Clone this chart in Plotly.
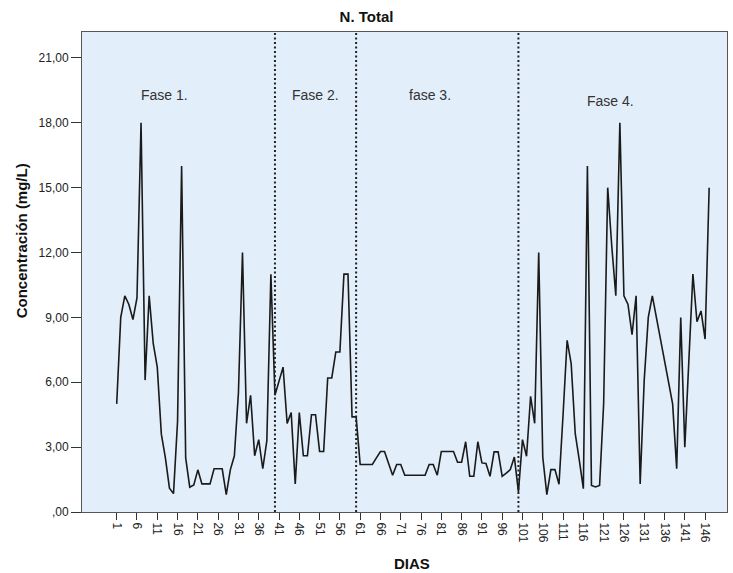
import plotly.graph_objects as go

# Daily total nitrogen concentration (mg/L), days 1..147
dias = list(range(1, 148))
n_total = [
    5.0, 9.0, 10.0, 9.6, 8.9, 9.9, 18.0, 6.1, 10.0, 7.8,      # 1-10
    6.7, 3.6, 2.5, 1.1, 0.85, 4.2, 16.0, 2.5, 1.15, 1.25,    # 11-20
    1.95, 1.3, 1.3, 1.3, 2.0, 2.0, 2.0, 0.8, 1.95, 2.6,      # 21-30
    5.5, 12.0, 4.1, 5.4, 2.6, 3.35, 2.0, 3.3, 11.0, 5.4,     # 31-40
    6.0, 6.7, 4.1, 4.6, 1.3, 4.6, 2.6, 2.6, 4.5, 4.5,        # 41-50
    2.8, 2.8, 6.2, 6.2, 7.4, 7.4, 11.0, 11.0, 4.4, 4.4,      # 51-60
    2.2, 2.2, 2.2, 2.2, 2.5, 2.8, 2.8, 2.25, 1.7, 2.2,       # 61-70
    2.2, 1.7, 1.7, 1.7, 1.7, 1.7, 1.7, 2.2, 2.2, 1.7,        # 71-80
    2.8, 2.8, 2.8, 2.8, 2.3, 2.3, 3.25, 1.65, 1.65, 3.25,    # 81-90
    2.27, 2.24, 1.65, 2.78, 2.78, 1.65, 1.8, 1.96, 2.54, 0.93,  # 91-100
    3.35, 2.58, 5.35, 4.1, 12.0, 2.54, 0.8, 1.96, 1.96, 1.28,   # 101-110
    4.5, 7.94, 6.86, 3.62, 2.4, 1.08, 16.0, 1.23, 1.16, 1.23,   # 111-120
    5.0, 15.0, 12.3, 10.0, 18.0, 10.0, 9.6, 8.2, 10.0, 1.3,     # 121-130
    6.1, 9.0, 10.0, 9.0, 8.0, 7.0, 6.0, 5.0, 2.0, 9.0,          # 131-140
    3.0, 7.0, 11.0, 8.8, 9.3, 8.0, 15.0,                        # 141-147
]

# Phase boundaries (days) and phase labels
phase_bounds = [40, 60, 100]
phase_names = ["Fase 1.", "Fase 2.", "fase 3.", "Fase 4."]
phase_label_x = [12.9, 50.1, 78.2, 122.8]
phase_label_y = [19.3, 19.3, 19.3, 19.0]

# Axis ticks
x_tickvals = list(range(1, 147, 5))
y_tickvals = [0, 3, 6, 9, 12, 15, 18, 21]
y_ticktext = [",00", "3,00", "6,00", "9,00", "12,00", "15,00", "18,00", "21,00"]

FONT = "Liberation Sans, Arial, sans-serif"

fig = go.Figure()
fig.add_trace(go.Scatter(
    x=dias, y=n_total, mode="lines",
    line=dict(color="#1a1a1a", width=1.6),
    hoverinfo="x+y", showlegend=False,
))

shapes = []
for b in phase_bounds:
    shapes.append(dict(
        type="line", xref="x", yref="paper", x0=b, x1=b, y0=0, y1=1,
        line=dict(color="#222222", width=2, dash="2px,2.5px"), layer="above",
    ))

annotations = []
for name, lx, ly in zip(phase_names, phase_label_x, phase_label_y):
    annotations.append(dict(
        x=lx, y=ly, xref="x", yref="y", text=name, showarrow=False,
        xanchor="center", yanchor="middle",
        font=dict(family=FONT, size=14, color="#333333"),
    ))
annotations.append(dict(
    x=-0.0946, y=0.566, xref="paper", yref="paper",
    xanchor="center", yanchor="middle",
    text="<b>Concentración (mg/L)</b>", textangle=-90, showarrow=False,
    font=dict(family=FONT, size=15, color="#111111"),
))
annotations.append(dict(
    x=0.512, y=-0.107, xref="paper", yref="paper",
    xanchor="center", yanchor="middle",
    text="<b>DIAS</b>", showarrow=False,
    font=dict(family=FONT, size=15, color="#111111"),
))

fig.update_layout(
    width=733, height=573,
    margin=dict(l=82, r=6, t=32, b=61),
    paper_bgcolor="white",
    plot_bgcolor="#E2EEFA",
    title=dict(
        text="<b>N. Total</b>", x=0.5, xref="container", xanchor="center",
        y=1 - 17 / 573, yref="container", yanchor="middle",
        font=dict(family=FONT, size=15, color="#111111"),
    ),
    shapes=shapes,
    annotations=annotations,
    xaxis=dict(
        range=[-7.55, 151.4], tickmode="array", tickvals=x_tickvals,
        tickangle=90, ticks="outside", ticklen=7, tickcolor="#333333",
        tickfont=dict(family=FONT, size=12, color="#222222"),
        showgrid=False, zeroline=False, showline=True, linecolor="#555555",
        linewidth=1, mirror=True,
    ),
    yaxis=dict(
        range=[0, 22.2], tickmode="array", tickvals=y_tickvals,
        ticktext=y_ticktext, ticks="outside", ticklen=10, tickcolor="#333333",
        tickfont=dict(family=FONT, size=12, color="#222222"),
        showgrid=False, zeroline=False, showline=True, linecolor="#555555",
        linewidth=1, mirror=True,
    ),
)

fig.write_html("out.html")
